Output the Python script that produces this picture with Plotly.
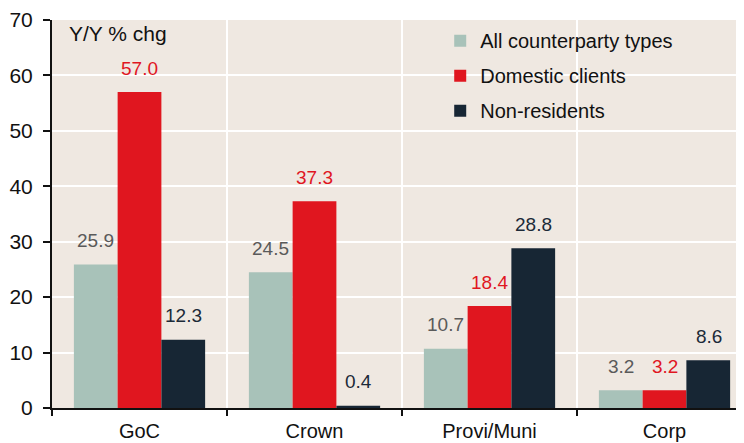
import plotly.graph_objects as go

categories = ["GoC", "Crown", "Provi/Muni", "Corp"]
series_names = ["All counterparty types", "Domestic clients", "Non-residents"]
all_types = [25.9, 24.5, 10.7, 3.2]
domestic = [57.0, 37.3, 18.4, 3.2]
non_res = [12.3, 0.4, 28.8, 8.6]
y_ticks = [0, 10, 20, 30, 40, 50, 60, 70]

series_values = [all_types, domestic, non_res]
bar_colors = ["#a8c2b9", "#e0161f", "#172634"]
label_colors = ["#5a5a5a", "#e0161f", "#1c2a38"]
FONT = "Liberation Sans, Arial, sans-serif"

fig = go.Figure()
for i, (name, vals) in enumerate(zip(series_names, series_values)):
    fig.add_trace(go.Bar(
        x=categories, y=vals, name=name,
        marker=dict(color=bar_colors[i], line=dict(width=0)),
        legendgroup=f"g{i}",
    ))

# data labels
shifts = [-44, 0, 44]
for i, vals in enumerate(series_values):
    for c, v in zip(categories, vals):
        fig.add_annotation(
            x=c, y=v, xref="x", yref="y", text=f"{v:.1f}",
            showarrow=False, xshift=shifts[i], yshift=24,
            font=dict(family=FONT, size=19, color=label_colors[i]),
        )

fig.add_annotation(
    x=0.022, y=1.0, xref="paper", yref="paper", text="Y/Y % chg",
    showarrow=False, xanchor="left", yanchor="top",
    font=dict(family=FONT, size=21, color="#111111"), yshift=0,
)

fig.update_layout(
    width=736, height=435,
    margin=dict(l=44, r=0, t=12, b=35),
    paper_bgcolor="white",
    plot_bgcolor="#efe8e1",
    barmode="group", bargap=0.25, bargroupgap=0,
    font=dict(family=FONT, size=20, color="#111111"),
    legend=dict(
        x=0.561, y=0.997, xanchor="left", yanchor="top",
        bgcolor="rgba(0,0,0,0)", font=dict(family=FONT, size=20, color="#111111"),
        tracegroupgap=6,
    ),
    showlegend=True,
)
fig.update_xaxes(
    type="category", range=[-0.5, 3.5 - 8 / 175], automargin=False,
    tickson="boundaries", ticks="outside", ticklen=6, tickwidth=1.5, tickcolor="#111111",
    showline=True, linecolor="#111111", linewidth=2,
    showgrid=True, gridcolor="white", gridwidth=2, ticklabelstandoff=4,
    tickfont=dict(family=FONT, size=20, color="#111111"),
)
fig.update_yaxes(
    range=[0, 70], tickvals=y_ticks, ticks="outside", ticklen=7, tickwidth=1.5,
    tickcolor="#111111", showline=True, linecolor="#111111", linewidth=2,
    showgrid=True, gridcolor="white", gridwidth=2, zeroline=False, automargin=False,
    ticklabelstandoff=6,
    tickfont=dict(family=FONT, size=21, color="#111111"),
)

fig.write_html("out.html")
